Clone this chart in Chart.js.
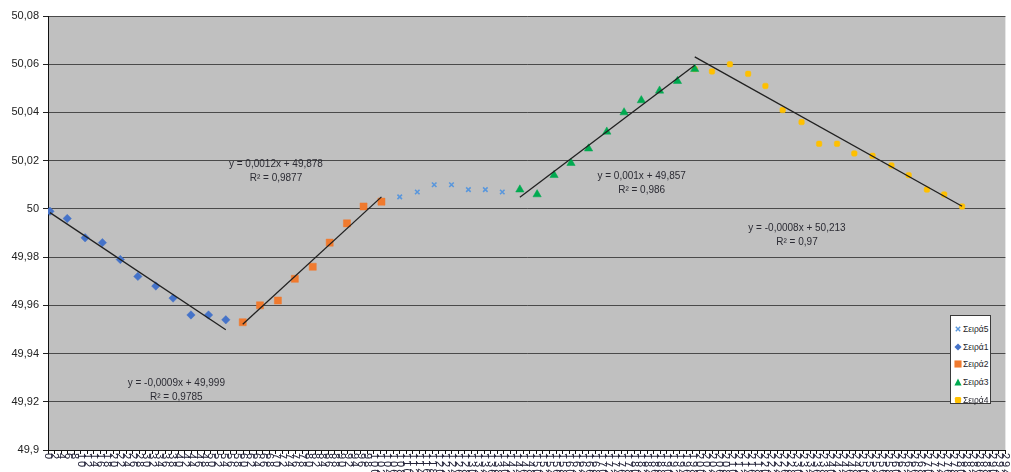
<!DOCTYPE html>
<html>
<head>
<meta charset="utf-8">
<script src="https://cdn.jsdelivr.net/npm/chart.js@4.4.1/dist/chart.umd.min.js"></script>
<style>
  html, body { margin: 0; padding: 0; background: #fff; }
  #wrap { position: relative; width: 1011px; height: 472px; overflow: hidden; }
  #legend {
    position: absolute; left: 950px; top: 315px; width: 41px; height: 89px;
    background: #fff; border: 1px solid #3a3a3a; box-sizing: border-box;
    font: 8.5px "Liberation Sans", Arial, sans-serif; color: #1e1e28;
    padding-top: 4px;
  }
  #legend .row { height: 17.8px; display: flex; align-items: center; white-space: nowrap; }
  #legend svg { width: 8px; height: 8px; margin: 0 1px 0 3px; flex: none; }
</style>
</head>
<body>
<div id="wrap">
  <canvas id="c" width="1011" height="472"></canvas>
  <div id="legend"></div>
</div>
<script>
// Frequency readings (Hz) split into five runs, x = sample position
const series1X = [0.6, 5.9, 11.4, 16.7, 22.2, 27.6, 33.1, 38.4, 43.9, 49.3, 54.6];
const series1Y = [49.999, 49.996, 49.988, 49.986, 49.979, 49.972, 49.968, 49.963, 49.956, 49.956, 49.954];

const series2X = [59.8, 65.1, 70.6, 75.8, 81.3, 86.5, 91.8, 96.9, 102.4];
const series2Y = [49.953, 49.960, 49.962, 49.971, 49.976, 49.986, 49.994, 50.001, 50.003];

const series5X = [108.0, 113.4, 118.6, 123.9, 129.1, 134.3, 139.5];
const series5Y = [50.005, 50.007, 50.010, 50.010, 50.008, 50.008, 50.007];

const series3X = [144.9, 150.2, 155.4, 160.6, 166.0, 171.6, 176.9, 182.2, 187.8, 193.3, 198.6];
const series3Y = [50.008, 50.006, 50.014, 50.019, 50.025, 50.032, 50.040, 50.045, 50.049, 50.053, 50.058];

const series4X = [198.6, 203.9, 209.4, 215.0, 220.3, 225.6, 231.4, 236.8, 242.3, 247.6, 253.2, 259.0, 264.3, 269.9, 275.2, 280.7];
const series4Y = [50.058, 50.057, 50.060, 50.056, 50.051, 50.041, 50.036, 50.027, 50.027, 50.023, 50.022, 50.018, 50.014, 50.008, 50.006, 50.001];

// Linear trend fits per run: slope, intercept, R²
const trendSlopes = [-0.0009, 0.00124, 0.00102, -0.000755];
const trendIntercepts = [49.999, 49.878, 49.857, 50.213];
const trendR2 = [0.9785, 0.9877, 0.986, 0.97];

// Value-axis ticks
const yTicks = [49.9, 49.92, 49.94, 49.96, 49.98, 50, 50.02, 50.04, 50.06, 50.08];

const seriesNames = ['Σειρά1', 'Σειρά2', 'Σειρά3', 'Σειρά4', 'Σειρά5'];

// Category labels along the bottom axis (every second position)
const xTickValues = [];
for (let v = 0; v <= 294; v += 2) xTickValues.push(v);
const xTickLabels = xTickValues.map(v => String(v));

const comma = s => s.replace('.', ',');
function fmtNum(v, d) {
  return comma(String(parseFloat(v.toFixed(d))));
}
function eqText(m, b) {
  return 'y = ' + fmtNum(m, 4) + 'x + ' + fmtNum(b, 3);
}

const pts = (xs, ys) => xs.map((x, i) => ({ x: x, y: ys[i] }));
const trend = (xs, k) => [xs[0], xs[xs.length - 1]].map(x => ({ x: x, y: trendSlopes[k] * x + trendIntercepts[k] }));

const runs = [
  { name: seriesNames[0], xs: series1X, ys: series1Y, color: '#4573C9', style: 'rectRot', r: 4.2 },
  { name: seriesNames[1], xs: series2X, ys: series2Y, color: '#F07A2E', style: 'rect', r: 5 },
  { name: seriesNames[2], xs: series3X, ys: series3Y, color: '#00AA50', style: 'triangle', r: 4.8 },
  { name: seriesNames[3], xs: series4X, ys: series4Y, color: '#FFC000', style: 'rectRounded', r: 3.2 },
  { name: seriesNames[4], xs: series5X, ys: series5Y, color: '#5A97DC', style: 'crossRot', r: 3.2 }
];

const datasets = [];
[0, 1, 2, 3].forEach(k => {
  const r = runs[k];
  datasets.push({
    type: 'line', label: 'trend' + (k + 1), data: trend(r.xs, k),
    borderColor: '#202020', borderWidth: 1.3, pointRadius: 0, fill: false, order: 0
  });
});
runs.forEach(r => {
  datasets.push({
    type: 'scatter', label: r.name, data: pts(r.xs, r.ys),
    pointStyle: r.style, pointRadius: r.r,
    backgroundColor: r.color, borderColor: r.color,
    borderWidth: r.style === 'crossRot' ? 1.6 : 0.5, order: 1
  });
});

// Trend label anchors (data coordinates)
const labelAnchors = [
  { x: 39.4, y: 49.9278 },
  { x: 70.0, y: 50.0186 },
  { x: 182.3, y: 50.0137 },
  { x: 230.0, y: 49.9921 }
];

const FONT = '"Liberation Sans", Arial, sans-serif';

const plotBg = {
  id: 'plotBg',
  beforeDraw(chart) {
    const { ctx, chartArea: a } = chart;
    ctx.save();
    ctx.fillStyle = '#fff';
    ctx.fillRect(0, 0, chart.width, chart.height);
    ctx.fillStyle = '#C0C0C0';
    ctx.fillRect(a.left, a.top, a.right - a.left, a.bottom - a.top);
    ctx.restore();
  }
};

const trendLabels = {
  id: 'trendLabels',
  afterDatasetsDraw(chart) {
    const { ctx, scales: { x, y } } = chart;
    ctx.save();
    ctx.font = '10px ' + FONT;
    ctx.fillStyle = '#2b2b33';
    ctx.textAlign = 'center';
    ctx.textBaseline = 'middle';
    labelAnchors.forEach((p, k) => {
      const px = x.getPixelForValue(p.x), py = y.getPixelForValue(p.y);
      ctx.fillText(eqText(trendSlopes[k], trendIntercepts[k]), px, py);
      ctx.fillText('R² = ' + fmtNum(trendR2[k], 4), px, py + 14.5);
    });
    ctx.restore();
  }
};

// Bottom-axis labels written top-to-bottom, starting just under the tick marks
const xLabelsCW = {
  id: 'xLabelsCW',
  afterDraw(chart) {
    const { ctx, scales: { x } } = chart;
    ctx.save();
    ctx.font = '11px ' + FONT;
    if ('letterSpacing' in ctx) ctx.letterSpacing = '2px';
    ctx.fillStyle = '#24243a';
    ctx.textAlign = 'left';
    ctx.textBaseline = 'middle';
    xTickValues.forEach((v, i) => {
      const px = x.getPixelForValue(v);
      ctx.save();
      ctx.translate(px, x.top + 3);
      ctx.rotate(Math.PI / 2);
      ctx.fillText(xTickLabels[i], 0, 0);
      ctx.restore();
    });
    ctx.restore();
  }
};

new Chart(document.getElementById('c'), {
  data: { datasets: datasets },
  options: {
    responsive: false,
    animation: false,
    layout: { padding: { top: 16, right: 3, left: 0, bottom: 0 } },
    plugins: { legend: { display: false }, tooltip: { enabled: false } },
    scales: {
      x: {
        type: 'linear', min: 0, max: 294,
        afterFit(s) { s.height = 22; },
        afterBuildTicks(s) { s.ticks = xTickValues.map(v => ({ value: v })); },
        grid: { display: true, drawOnChartArea: false, drawTicks: true, tickLength: 4, tickColor: '#111' },
        border: { display: true, color: '#111', width: 1 },
        ticks: { display: false, autoSkip: false }
      },
      y: {
        type: 'linear', min: 49.9, max: 50.08,
        afterFit(s) { s.width = 48; },
        afterBuildTicks(s) { s.ticks = yTicks.map(v => ({ value: v })); },
        grid: { color: '#4a4a4a', borderDash: [2, 2], lineWidth: 1, tickLength: 5, tickColor: '#222', tickBorderDash: [] },
        border: { display: true, color: '#111', width: 1 },
        ticks: {
          padding: 4, color: '#222',
          font: { family: FONT, size: 11 },
          callback: v => comma(String(parseFloat(v.toFixed(2))))
        }
      }
    }
  },
  plugins: [plotBg, trendLabels, xLabelsCW]
});

// Legend box: Σειρά5 first, then 1–4
const legendOrder = [4, 0, 1, 2, 3];
function markerSvg(r) {
  const c = r.color;
  let shape = '';
  if (r.style === 'rectRot') shape = `<polygon points="4.5,0.5 8.5,4.5 4.5,8.5 0.5,4.5" fill="${c}"/>`;
  else if (r.style === 'rect') shape = `<rect x="0.5" y="0.5" width="8" height="8" fill="${c}"/>`;
  else if (r.style === 'triangle') shape = `<polygon points="4.5,0.5 8.5,8.5 0.5,8.5" fill="${c}"/>`;
  else if (r.style === 'rectRounded') shape = `<rect x="1" y="1" width="7" height="7" rx="1.5" fill="${c}"/>`;
  else shape = `<path d="M2 2 L7 7 M7 2 L2 7" stroke="${c}" stroke-width="1.6"/>`;
  return `<svg viewBox="0 0 9 9">${shape}</svg>`;
}
document.getElementById('legend').innerHTML = legendOrder
  .map(k => `<div class="row">${markerSvg(runs[k])}<span>${runs[k].name}</span></div>`).join('');
</script>
</body>
</html>
